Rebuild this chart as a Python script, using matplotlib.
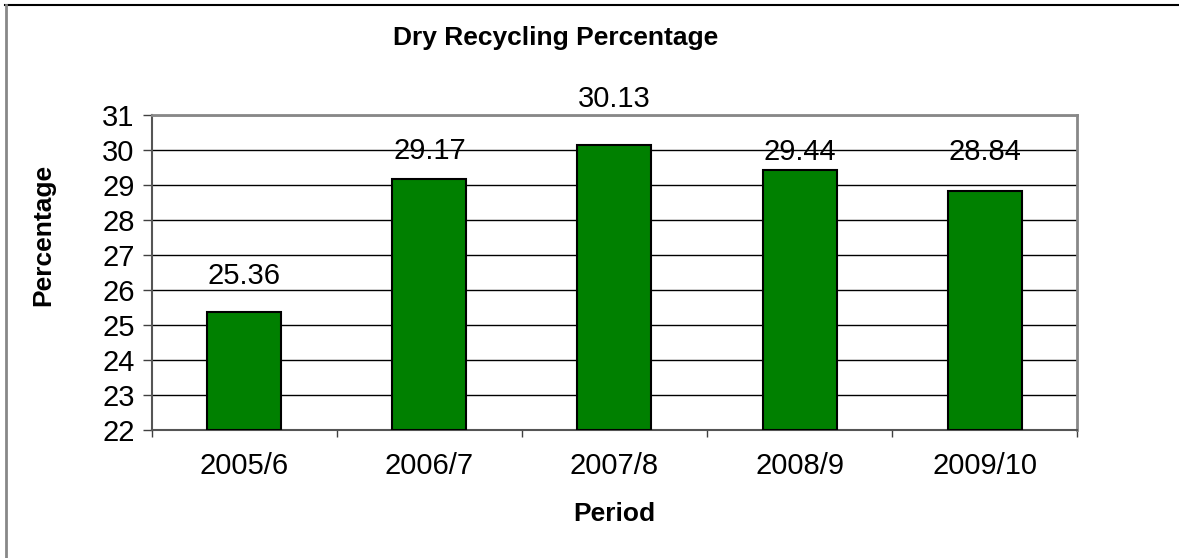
import matplotlib
matplotlib.use('Agg')
import matplotlib.pyplot as plt
from matplotlib.lines import Line2D
import numpy as np

plt.rcParams['font.family'] = ['Liberation Sans', 'DejaVu Sans']

# dry recycling rate per period
periods = ['2005/6', '2006/7', '2007/8', '2008/9', '2009/10']
rates = [25.36, 29.17, 30.13, 29.44, 28.84]
# how far (pixels) each value label sits above its bar
label_lift = [36, 28, 46, 18, 39]

fig = plt.figure(figsize=(11.79, 5.58), dpi=100)
ax = fig.add_axes([0.1289, 0.2294, 0.7846, 0.5645])

x = np.arange(len(periods))
ax.bar(x, [r - 22 for r in rates], bottom=22, width=0.4,
       color='#008000', edgecolor='black', linewidth=1.5, zorder=3)

for xi, r, lift in zip(x, rates, label_lift):
    ax.annotate(f'{r:.2f}', (xi, r), xytext=(0, lift * 0.72),
                textcoords='offset points', ha='center', va='center',
                fontsize=21, annotation_clip=False, zorder=4)

ax.set_xlim(-0.5, len(periods) - 0.5)
ax.set_ylim(22, 31)
ax.set_yticks(range(22, 32))
ax.yaxis.grid(True, color='black', linewidth=1.0, zorder=0)

ax.set_xticks(x)
ax.set_xticklabels(periods)
ax.set_xticks(np.arange(-0.5, len(periods)), minor=True)
ax.tick_params(axis='x', which='major', length=0, pad=16, labelsize=21)
ax.tick_params(axis='x', which='minor', length=5, width=1, color='#404040')
ax.tick_params(axis='y', length=6.5, width=1, color='#404040', pad=6, labelsize=21)

for side in ['top', 'right']:
    ax.spines[side].set_color('#888888')
    ax.spines[side].set_linewidth(2)
for side in ['left', 'bottom']:
    ax.spines[side].set_color('#555555')
    ax.spines[side].set_linewidth(1.5)

ax.set_ylabel('Percentage', fontsize=19, fontweight='bold')
ax.yaxis.set_label_coords(-0.105, 0.62)
ax.set_xlabel('Period', fontsize=19, fontweight='bold', labelpad=16)

fig.text(0.471, 0.932, 'Dry Recycling Percentage', ha='center', va='center',
         fontsize=19, fontweight='bold')

# chart frame: dark top edge, grey left edge
fig.add_artist(Line2D([0.004, 1.0], [0.991, 0.991], color='black', linewidth=1.5,
                      transform=fig.transFigure))
fig.add_artist(Line2D([0.005, 0.005], [0.0, 0.991], color='#888888', linewidth=2,
                      transform=fig.transFigure))

fig.savefig('out.png', dpi=100)
